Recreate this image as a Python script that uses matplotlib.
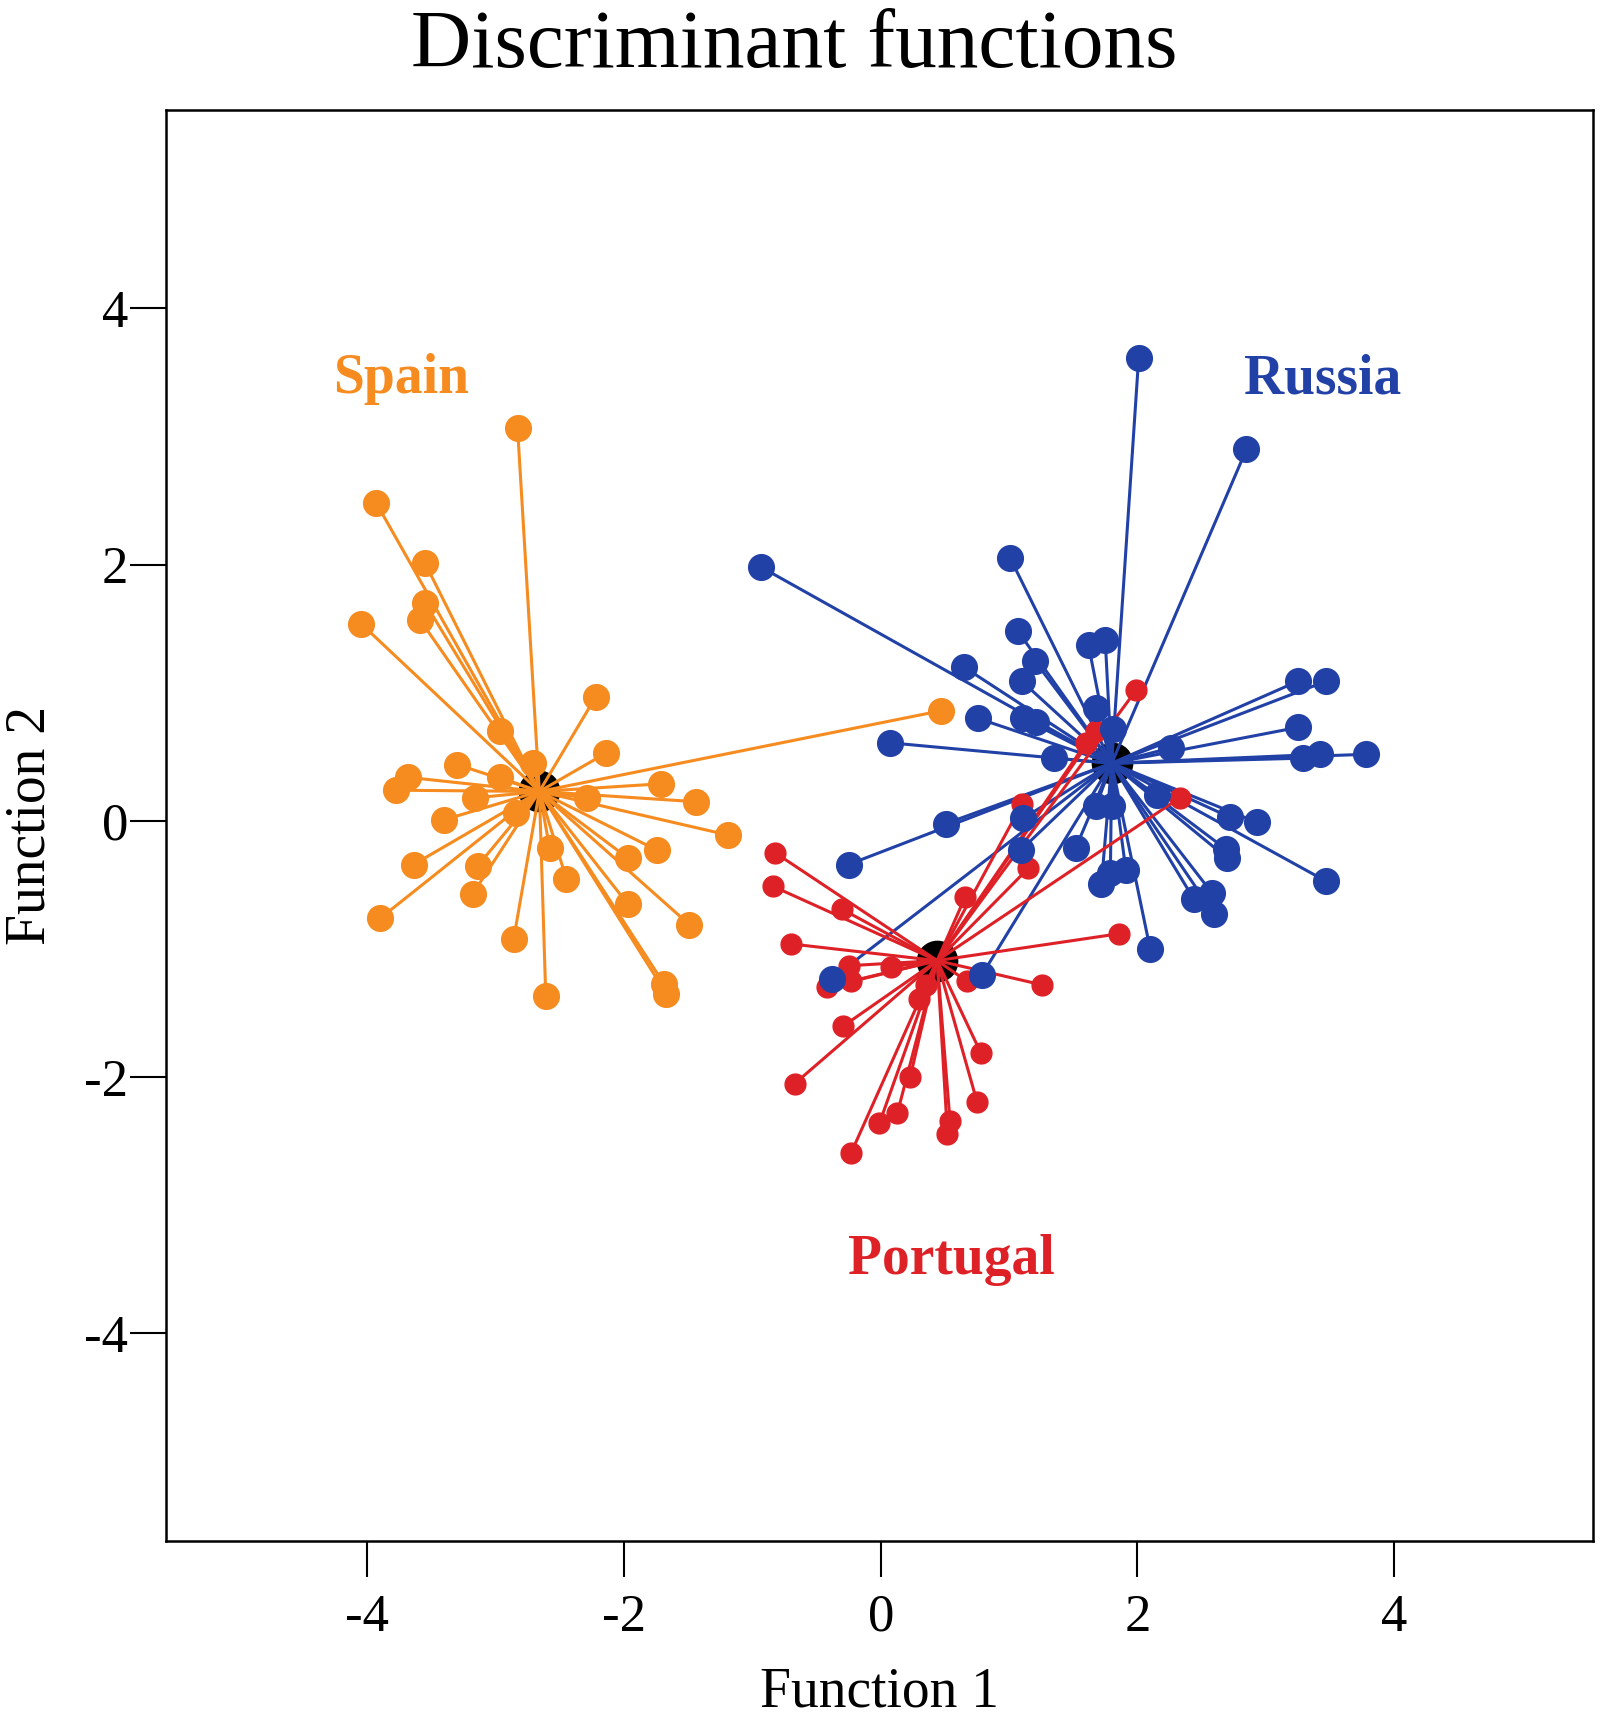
import numpy as np
import matplotlib
matplotlib.use('Agg')
import matplotlib.pyplot as plt

plt.rcParams['font.family'] = ['Liberation Serif', 'DejaVu Serif']
plt.rcParams['axes.unicode_minus'] = False

# group centroids (function 1, function 2)
spain_centroid = (-2.66, 0.23)
russia_centroid = (1.80, 0.45)
portugal_centroid = (0.44, -1.09)

# individual scores
spain_x = [-2.83, -3.93, -3.55, -3.55, -3.59, -4.05, -2.22, -2.97, -2.71, -2.14,
           -3.30, -3.68, -3.78, -2.97, -3.16, -3.40, -2.84, -2.29, -1.71, -1.44,
           -1.19, -3.64, -3.14, -3.18, -3.90, -2.58, -2.45, -1.74, -1.97, -1.97,
           -1.49, -2.86, -2.61, -1.69, -1.67, 0.47]
spain_y = [3.07, 2.48, 2.01, 1.70, 1.57, 1.54, 0.97, 0.70, 0.45, 0.53,
           0.44, 0.34, 0.24, 0.34, 0.18, 0.01, 0.06, 0.18, 0.29, 0.15,
           -0.11, -0.34, -0.35, -0.57, -0.76, -0.21, -0.45, -0.23, -0.29, -0.65,
           -0.81, -0.92, -1.37, -1.27, -1.35, 0.86]

russia_x = [2.01, 2.85, -0.93, 1.01, 1.07, 1.62, 1.75, 0.65, 1.20, 1.10,
            1.68, 0.76, 1.11, 1.21, 0.07, 1.35, 1.81, 2.26, 3.25, 3.47,
            3.25, 3.29, 3.42, 3.78, 0.51, 1.11, 1.09, 1.52, 1.68, 1.80,
            1.72, 1.79, 1.91, 2.15, 2.72, 2.93, 2.69, 2.70, 3.47, 2.44,
            2.58, 2.60, 2.10, -0.25, -0.38, 0.79]
russia_y = [3.61, 2.90, 1.98, 2.05, 1.48, 1.37, 1.41, 1.20, 1.25, 1.09,
            0.88, 0.80, 0.80, 0.77, 0.61, 0.49, 0.72, 0.57, 1.09, 1.09,
            0.73, 0.49, 0.52, 0.52, -0.02, 0.02, -0.23, -0.21, 0.12, 0.12,
            -0.49, -0.41, -0.38, 0.20, 0.03, -0.01, -0.22, -0.29, -0.47, -0.61,
            -0.56, -0.73, -1.00, -0.34, -1.23, -1.20]

portugal_x = [-0.82, -0.84, -0.30, -0.70, -0.25, 0.08, -0.23, -0.42, 0.30, 0.35,
              0.67, 1.26, 1.86, 0.66, 1.15, -0.29, -0.67, 0.78, 0.23, 0.13,
              -0.01, 0.75, 0.54, 0.52, -0.23, 1.99, 1.60, 1.68, 2.33, 1.10]
portugal_y = [-0.25, -0.51, -0.69, -0.96, -1.13, -1.14, -1.25, -1.30, -1.39, -1.28,
              -1.25, -1.28, -0.88, -0.59, -0.37, -1.60, -2.05, -1.81, -2.00, -2.28,
              -2.36, -2.19, -2.34, -2.44, -2.59, 1.02, 0.61, 0.70, 0.18, 0.13]

orange = '#F68B1F'
blue = '#2141A7'
red = '#DE2127'

fig = plt.figure(figsize=(16.08, 17.2), dpi=100)
ax = fig.add_axes([0.1032, 0.1041, 0.8874, 0.8320])

#centroids go underneath everything
for c in [spain_centroid, russia_centroid, portugal_centroid]:
    ax.plot(c[0], c[1], 'o', color='black', markersize=29, zorder=1)

#lines from each centroid to its members
groups = [(spain_x, spain_y, spain_centroid, orange),
          (russia_x, russia_y, russia_centroid, blue),
          (portugal_x, portugal_y, portugal_centroid, red)]
for xs, ys, c, col in groups:
    for px, py in zip(xs, ys):
        ax.plot([c[0], px], [c[1], py], color=col, linewidth=2.2, zorder=2)

ax.plot(spain_x, spain_y, 'o', color=orange, markersize=18.5, linestyle='none', zorder=3)
ax.plot(portugal_x, portugal_y, 'o', color=red, markersize=15, linestyle='none', zorder=4)
ax.plot(russia_x, russia_y, 'o', color=blue, markersize=18.5, linestyle='none', zorder=5)

ax.text(-3.74, 3.34, 'Spain', color=orange, fontsize=40, fontweight='bold',
        ha='center', va='baseline')
ax.text(3.44, 3.34, 'Russia', color=blue, fontsize=40, fontweight='bold',
        ha='center', va='baseline')
ax.text(0.55, -3.54, 'Portugal', color=red, fontsize=40, fontweight='bold',
        ha='center', va='baseline')

ax.set_xlim(-5.57, 5.55)
ax.set_ylim(-5.62, 5.55)
ax.set_xticks([-4, -2, 0, 2, 4])
ax.set_yticks([-4, -2, 0, 2, 4])
ax.tick_params(axis='both', direction='out', length=26, width=1.5, labelsize=38)
ax.tick_params(axis='x', pad=12)
ax.tick_params(axis='y', pad=1)
for s in ax.spines.values():
    s.set_linewidth(1.8)

ax.set_xlabel('Function 1', fontsize=40)
ax.xaxis.set_label_coords(0.5, -0.088)
ax.set_ylabel('Function 2', fontsize=40)
ax.yaxis.set_label_coords(-0.077, 0.5)

fig.text(0.494, 1 - 67 / 1720, 'Discriminant functions', fontsize=60,
         ha='center', va='baseline')

fig.savefig('out.png', dpi=100)
